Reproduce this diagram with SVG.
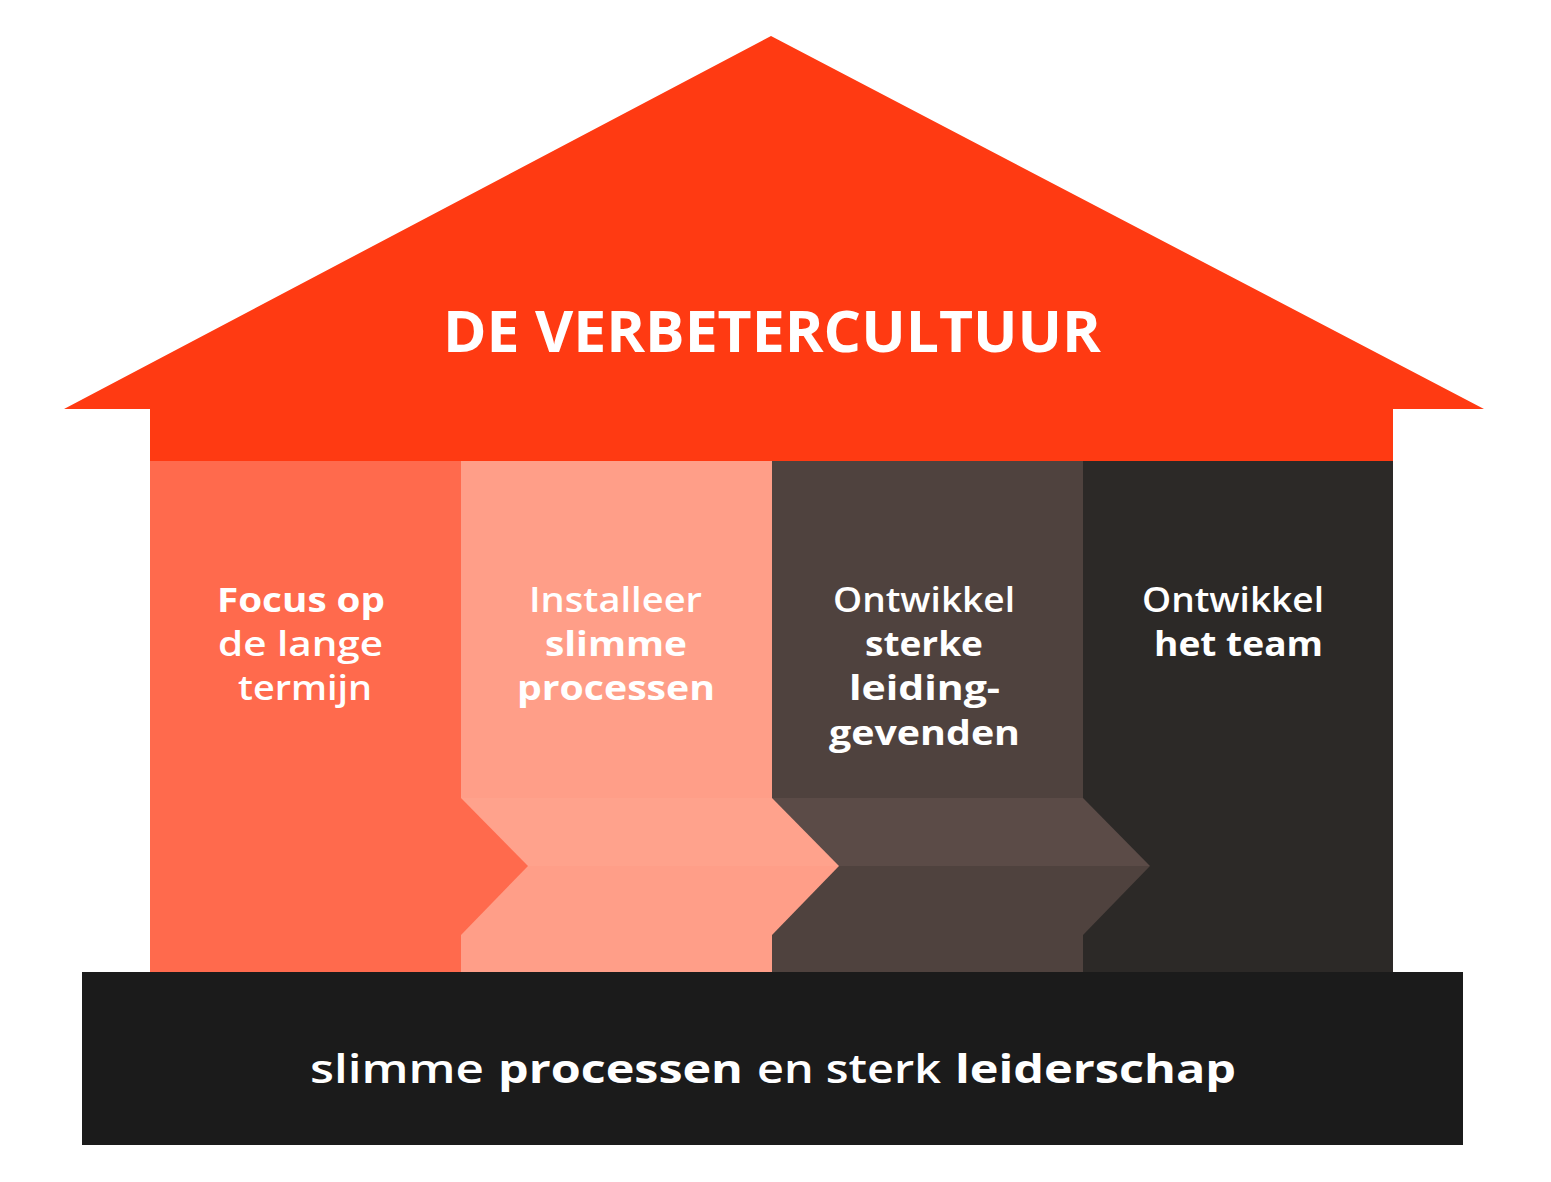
<svg xmlns="http://www.w3.org/2000/svg" width="1551" height="1182" viewBox="0 0 1551 1182">
<style>
.t{font-family:"Open Sans","Noto Sans","Liberation Sans",sans-serif;fill:#FFFFFF;}
.col{font-size:34px;text-anchor:start;}
.m{font-weight:600;}
.s{font-weight:700;}
.bm{font-weight:500;}
.b{font-weight:700;}
</style>
<rect x="0" y="0" width="1551" height="1182" fill="#FFFFFF"/>
<g id="roof">
<polygon points="771,36 1484,409 1393,409 1393,461 150,461 150,409 64,409" fill="#FF3A12"/>
<text class="t b" x="443" y="352" font-size="58" textLength="658" lengthAdjust="spacingAndGlyphs">DE VERBETERCULTUUR</text>
</g>
<g id="pillar1">
<rect x="150" y="461" width="311" height="511" fill="#FF6A4D"/>
</g>
<g id="pillar2">
<rect x="461" y="461" width="311" height="511" fill="#FF9E88"/>
<rect x="461" y="798" width="311" height="68" fill="#FFA28C"/>
</g>
<g id="pillar3">
<rect x="772" y="461" width="311" height="511" fill="#4F423E"/>
<rect x="772" y="798" width="311" height="68" fill="#5B4B47"/>
</g>
<g id="pillar4">
<rect x="1083" y="461" width="310" height="511" fill="#2C2927"/>
</g>
<g id="arrows">
<polygon points="461,798 528,866 461,935" fill="#FF6A4D"/>
<polygon points="772,798 839,866 772,866" fill="#FFA28C"/>
<polygon points="772,866 839,866 772,935" fill="#FF9E88"/>
<polygon points="1083,798 1150,866 1083,866" fill="#5B4B47"/>
<polygon points="1083,866 1150,866 1083,935" fill="#4F423E"/>
</g>
<g id="pillar1-text">
<text class="t col s" x="217" y="612" textLength="168" lengthAdjust="spacingAndGlyphs">Focus op</text>
<text class="t col m" x="218" y="656" textLength="165" lengthAdjust="spacingAndGlyphs">de lange</text>
<text class="t col m" x="238" y="700" textLength="134" lengthAdjust="spacingAndGlyphs">termijn</text>
</g>
<g id="pillar2-text">
<text class="t col m" x="529" y="612" textLength="173" lengthAdjust="spacingAndGlyphs">Installeer</text>
<text class="t col s" x="545" y="656" textLength="142" lengthAdjust="spacingAndGlyphs">slimme</text>
<text class="t col s" x="517" y="700" textLength="198" lengthAdjust="spacingAndGlyphs">processen</text>
</g>
<g id="pillar3-text">
<text class="t col m" x="833" y="612" textLength="182" lengthAdjust="spacingAndGlyphs">Ontwikkel</text>
<text class="t col s" x="865" y="656" textLength="118" lengthAdjust="spacingAndGlyphs">sterke</text>
<text class="t col s" x="849" y="700" textLength="151" lengthAdjust="spacingAndGlyphs">leiding-</text>
<text class="t col s" x="829" y="745" textLength="191" lengthAdjust="spacingAndGlyphs">gevenden</text>
</g>
<g id="pillar4-text">
<text class="t col m" x="1142" y="612" textLength="182" lengthAdjust="spacingAndGlyphs">Ontwikkel</text>
<text class="t col s" x="1154" y="656" textLength="169" lengthAdjust="spacingAndGlyphs">het team</text>
</g>
<g id="foundation">
<rect x="82" y="972" width="1381" height="173" fill="#1B1B1B"/>
<text class="t m" x="310" y="1083" font-size="40" textLength="174" lengthAdjust="spacingAndGlyphs">slimme</text>
<text class="t s" x="498" y="1083" font-size="40" textLength="245" lengthAdjust="spacingAndGlyphs">processen</text>
<text class="t m" x="757" y="1083" font-size="40" textLength="184" lengthAdjust="spacingAndGlyphs">en sterk</text>
<text class="t s" x="955" y="1083" font-size="40" textLength="281" lengthAdjust="spacingAndGlyphs">leiderschap</text>
</g>
<g id="connectors"/>
</svg>
